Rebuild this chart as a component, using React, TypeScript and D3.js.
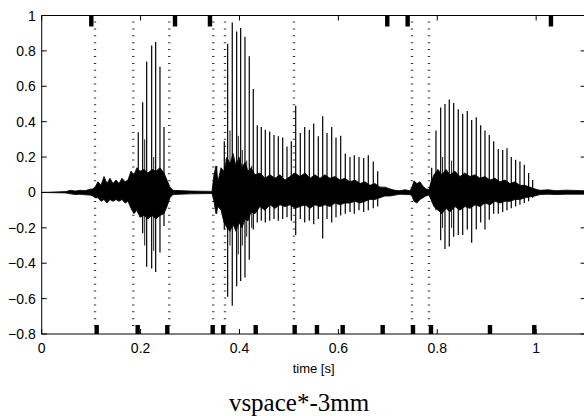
import React, { useEffect, useRef } from "react";
import { select, scaleLinear, area, format } from "d3";

// axis ticks
const xTicks = [0, 0.2, 0.4, 0.6, 0.8, 1];
const yTicks = [-0.8, -0.6, -0.4, -0.2, 0, 0.2, 0.4, 0.6, 0.8, 1];

// marker positions (s)
const topMarks = [0.1003, 0.2696, 0.3403, 0.6989, 0.7401, 1.0299];
const bottomMarks = [
  0.1112, 0.1941, 0.254, 0.3458, 0.3672, 0.4328, 0.5116, 0.5567, 0.6087,
  0.6896, 0.7509, 0.7873, 0.9066, 0.9962,
];
const boundaries = [0.1078, 0.1852, 0.258, 0.347, 0.3707, 0.5102, 0.7488, 0.7832];

// glottal pulses: time, positive peak, negative peak
const pulseTimes = [
  0.1953, 0.2042, 0.2123, 0.2224, 0.2305, 0.2392, 0.2473,
  0.3539, 0.3693, 0.3761, 0.3854, 0.3943, 0.4024, 0.4111, 0.4198, 0.4279,
  0.436, 0.4441, 0.4522, 0.4611, 0.4698, 0.4785, 0.4874, 0.4961, 0.5048,
  0.5137, 0.523, 0.5319, 0.5412, 0.5501, 0.5594, 0.5683, 0.577, 0.5865,
  0.5952, 0.6047, 0.614, 0.6235, 0.6322, 0.6417, 0.6512, 0.6605, 0.6706,
  0.6795,
  0.7887, 0.7974, 0.8069, 0.8156, 0.8243, 0.8332, 0.8425, 0.8514, 0.8607,
  0.8696, 0.8789, 0.8878, 0.8965, 0.9052, 0.9141, 0.9234, 0.9323, 0.941,
  0.9497, 0.9585, 0.9672, 0.976, 0.9848, 0.9929,
];
const pulsePeaks = [
  0.34, 0.51, 0.74, 0.83, 0.85, 0.71, 0.37,
  0.15, 0.29, 0.84, 0.96, 0.91, 0.93, 0.88, 0.77, 0.585,
  0.38, 0.37, 0.355, 0.345, 0.325, 0.317, 0.31, 0.26, 0.29,
  0.49, 0.336, 0.37, 0.355, 0.39, 0.317, 0.43, 0.336, 0.37,
  0.31, 0.32, 0.22, 0.2, 0.21, 0.2, 0.195, 0.21, 0.175,
  0.12,
  0.14, 0.35, 0.48, 0.5, 0.525, 0.505, 0.47, 0.445, 0.46,
  0.41, 0.425, 0.38, 0.35, 0.325, 0.29, 0.245, 0.24, 0.25,
  0.2, 0.185, 0.175, 0.157, 0.11, 0.07,
];
const pulseTroughs = [
  -0.12, -0.23, -0.42, -0.43, -0.45, -0.34, -0.19,
  -0.12, -0.21, -0.59, -0.64, -0.53, -0.5, -0.48, -0.38, -0.21,
  -0.17, -0.16, -0.17, -0.16, -0.15, -0.16, -0.15, -0.14, -0.16,
  -0.24, -0.15, -0.17, -0.16, -0.18, -0.15, -0.26, -0.15, -0.17,
  -0.14, -0.13, -0.12, -0.11, -0.12, -0.1, -0.11, -0.1, -0.09,
  -0.08,
  -0.05, -0.1, -0.27, -0.32, -0.305, -0.25, -0.24, -0.24, -0.21,
  -0.285, -0.21, -0.17, -0.21, -0.155, -0.12, -0.12, -0.11, -0.1,
  -0.09, -0.08, -0.07, -0.06, -0.05, -0.03,
];

// weaker in-between spikes
const minorTimes = [0.2083, 0.2265, 0.3808, 0.3976, 0.4057, 0.4146, 0.4247, 0.8107, 0.829];
const minorPeaks = [0.3, 0.2, 0.35, 0.32, 0.24, 0.18, 0.15, 0.2, 0.18];
const minorTroughs = [-0.3, -0.33, -0.3, -0.35, -0.3, -0.25, -0.2, -0.2, -0.2];

// noise envelope of the dense part of the signal
const envTimes = [
  0, 0.0491, 0.0581, 0.0682, 0.0775, 0.0876, 0.0977, 0.1037, 0.1078, 0.1139,
  0.1199, 0.126, 0.1321, 0.1381, 0.1442, 0.1503, 0.1563, 0.1624, 0.1685,
  0.1745, 0.1806, 0.1866, 0.1927, 0.1988, 0.2069, 0.2149, 0.223, 0.2311,
  0.2392, 0.2473, 0.2534, 0.2594, 0.2655, 0.2999, 0.3444, 0.3484, 0.3525,
  0.3565, 0.3626, 0.3687, 0.3747, 0.3808, 0.3869, 0.3929, 0.399, 0.4051,
  0.4111, 0.4172, 0.4233, 0.4314, 0.4415, 0.4516, 0.4617, 0.4718, 0.4819,
  0.492, 0.5021, 0.5122, 0.5223, 0.5325, 0.5426, 0.5527, 0.5628, 0.5729,
  0.583, 0.5931, 0.6032, 0.6133, 0.6235, 0.6336, 0.6437, 0.6538, 0.6639,
  0.674, 0.6841, 0.6943, 0.7044, 0.7145, 0.7246, 0.7347, 0.7448, 0.7488,
  0.7529, 0.7589, 0.765, 0.7711, 0.7771, 0.7832, 0.7873, 0.7933, 0.8014,
  0.8095, 0.8176, 0.8257, 0.8358, 0.8459, 0.856, 0.8662, 0.8763, 0.8864,
  0.8965, 0.9066, 0.9167, 0.9268, 0.9369, 0.947, 0.9571, 0.9672, 0.9773,
  0.9874, 0.9975, 1.0077, 1.0238, 1.04, 1.0602, 1.0967,
];
const envUpper = [
  0, 0.005, 0.012, 0.008, 0.012, 0.01, 0.018, 0.02, 0.03, 0.06,
  0.04, 0.09, 0.05, 0.08, 0.05, 0.07, 0.05, 0.08, 0.06,
  0.07, 0.12, 0.1, 0.14, 0.12, 0.13, 0.11, 0.13, 0.12,
  0.14, 0.11, 0.07, 0.03, 0.012, 0.008, 0.006, 0.1, 0.15,
  0.06, 0.14, 0.12, 0.2, 0.16, 0.22, 0.15, 0.2, 0.14,
  0.17, 0.12, 0.14, 0.1, 0.11, 0.08, 0.1, 0.08, 0.1,
  0.07, 0.09, 0.11, 0.09, 0.11, 0.08, 0.1, 0.08, 0.1,
  0.08, 0.09, 0.07, 0.08, 0.06, 0.07, 0.05, 0.06, 0.04,
  0.05, 0.03, 0.03, 0.02, 0.012, 0.01, 0.015, 0.01, 0.03,
  0.065, 0.05, 0.06, 0.035, 0.02, 0.015, 0.06, 0.1, 0.13,
  0.1, 0.13, 0.1, 0.12, 0.09, 0.11, 0.09, 0.1, 0.08,
  0.09, 0.07, 0.08, 0.06, 0.07, 0.05, 0.06, 0.04, 0.04,
  0.03, 0.02, 0.012, 0.015, 0.01, 0.013, 0.01,
];
const envLower = [
  0, -0.003, -0.008, -0.012, -0.01, -0.013, -0.015, -0.02, -0.03, -0.03,
  -0.05, -0.04, -0.06, -0.04, -0.05, -0.04, -0.05, -0.04, -0.06,
  -0.05, -0.09, -0.12, -0.1, -0.14, -0.13, -0.15, -0.13, -0.15,
  -0.13, -0.12, -0.08, -0.03, -0.012, -0.008, -0.006, -0.05, -0.12,
  -0.08, -0.1, -0.17, -0.2, -0.22, -0.18, -0.22, -0.17, -0.2,
  -0.15, -0.16, -0.11, -0.12, -0.08, -0.1, -0.07, -0.09, -0.07,
  -0.08, -0.07, -0.09, -0.08, -0.07, -0.09, -0.07, -0.08, -0.07,
  -0.08, -0.06, -0.07, -0.06, -0.06, -0.05, -0.06, -0.05, -0.04,
  -0.04, -0.03, -0.02, -0.02, -0.015, -0.01, -0.012, -0.012, -0.02,
  -0.05, -0.06, -0.04, -0.03, -0.02, -0.015, -0.04, -0.08, -0.1,
  -0.12, -0.09, -0.11, -0.08, -0.1, -0.08, -0.09, -0.07, -0.08,
  -0.06, -0.07, -0.05, -0.06, -0.05, -0.05, -0.04, -0.04, -0.03,
  -0.025, -0.02, -0.012, -0.01, -0.012, -0.01, -0.01,
];

const WIDTH = 584;
const HEIGHT = 416;
const left = 41.7;
const right = 585.6;
const top = 15.5;
const bottom = 334;

const App = () => {
  const svgRef = useRef<SVGSVGElement>(null);

  useEffect(() => {
    const svg = select(svgRef.current);
    svg.selectAll("*").remove();

    const x = scaleLinear().domain([0, 1.1]).range([left, right]);
    const y = scaleLinear().domain([-0.8, 1]).range([bottom, top]);
    const fmt = (v: number) => format("~g")(v).replace("-", "\u2212");

    const font = "'Liberation Sans', Arial, Helvetica, sans-serif";

    // dotted segment boundaries
    svg
      .append("g")
      .selectAll("line")
      .data(boundaries)
      .enter()
      .append("line")
      .attr("x1", (d) => x(d))
      .attr("x2", (d) => x(d))
      .attr("y1", top + 6)
      .attr("y2", bottom - 6)
      .attr("stroke", "#333")
      .attr("stroke-width", 2.4)
      .attr("stroke-dasharray", "1 5.9");

    // dense part of the waveform
    const env = envTimes.map((t, i) => [t, envUpper[i], envLower[i]]);
    svg
      .append("path")
      .datum(env)
      .attr(
        "d",
        area<number[]>()
          .x((d) => x(d[0]))
          .y0((d) => y(d[2]))
          .y1((d) => y(d[1]))
      )
      .attr("fill", "#000")
      .attr("stroke", "#000")
      .attr("stroke-width", 0.8);

    // weaker spikes
    svg
      .append("g")
      .selectAll("line")
      .data(minorTimes.map((t, i) => [t, minorPeaks[i], minorTroughs[i]]))
      .enter()
      .append("line")
      .attr("x1", (d) => x(d[0]))
      .attr("x2", (d) => x(d[0]))
      .attr("y1", (d) => y(d[1]))
      .attr("y2", (d) => y(d[2]))
      .attr("stroke", "#000")
      .attr("stroke-width", 0.9);

    // pulses
    svg
      .append("g")
      .selectAll("line")
      .data(pulseTimes.map((t, i) => [t, pulsePeaks[i], pulseTroughs[i]]))
      .enter()
      .append("line")
      .attr("x1", (d) => x(d[0]))
      .attr("x2", (d) => x(d[0]))
      .attr("y1", (d) => y(d[1]))
      .attr("y2", (d) => y(d[2]))
      .attr("stroke", "#000")
      .attr("stroke-width", 1.2);

    // markers
    svg
      .append("g")
      .selectAll("rect")
      .data(topMarks)
      .enter()
      .append("rect")
      .attr("x", (d) => x(d) - 2.2)
      .attr("y", top)
      .attr("width", 4.4)
      .attr("height", 11)
      .attr("fill", "#000");
    svg
      .append("g")
      .selectAll("rect")
      .data(bottomMarks)
      .enter()
      .append("rect")
      .attr("x", (d) => x(d) - 2.2)
      .attr("y", bottom - 9)
      .attr("width", 4.4)
      .attr("height", 9)
      .attr("fill", "#000");

    // frame
    svg
      .append("rect")
      .attr("x", left)
      .attr("y", top)
      .attr("width", right - left)
      .attr("height", bottom - top)
      .attr("fill", "none")
      .attr("stroke", "#000")
      .attr("stroke-width", 1);

    // x ticks
    const gx = svg.append("g");
    xTicks.forEach((t) => {
      gx.append("line")
        .attr("x1", x(t))
        .attr("x2", x(t))
        .attr("y1", bottom)
        .attr("y2", bottom - 5)
        .attr("stroke", "#000");
      gx.append("line")
        .attr("x1", x(t))
        .attr("x2", x(t))
        .attr("y1", top)
        .attr("y2", top + 5)
        .attr("stroke", "#000");
      gx.append("text")
        .attr("x", x(t))
        .attr("y", bottom + 19)
        .attr("text-anchor", "middle")
        .attr("font-family", font)
        .attr("font-size", 14)
        .text(fmt(t));
    });

    // y ticks
    const gy = svg.append("g");
    yTicks.forEach((t) => {
      gy.append("line")
        .attr("x1", left)
        .attr("x2", left + 5)
        .attr("y1", y(t))
        .attr("y2", y(t))
        .attr("stroke", "#000");
      gy.append("line")
        .attr("x1", right)
        .attr("x2", right - 5)
        .attr("y1", y(t))
        .attr("y2", y(t))
        .attr("stroke", "#000");
      gy.append("text")
        .attr("x", left - 6)
        .attr("y", y(t) + 5)
        .attr("text-anchor", "end")
        .attr("font-family", font)
        .attr("font-size", 14)
        .text(fmt(t));
    });

    svg
      .append("text")
      .attr("x", (left + right) / 2)
      .attr("y", 373)
      .attr("text-anchor", "middle")
      .attr("font-family", font)
      .attr("font-size", 13)
      .text("time [s]");

    svg
      .append("text")
      .attr("x", 299)
      .attr("y", 411)
      .attr("text-anchor", "middle")
      .attr("font-family", "'Liberation Serif', 'Times New Roman', serif")
      .attr("font-size", 25)
      .text("vspace*-3mm");
  }, []);

  return (
    <svg
      ref={svgRef}
      width={WIDTH}
      height={HEIGHT}
      style={{ position: "absolute", left: 0, top: 0, background: "#fff" }}
    ></svg>
  );
};

export default App;
